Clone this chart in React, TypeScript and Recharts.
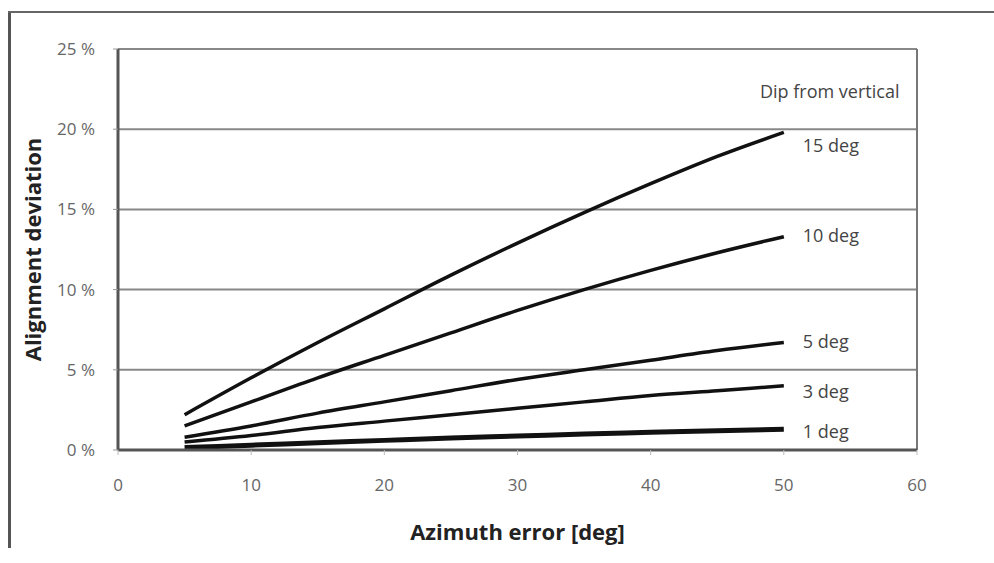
import React from "react";
import {
  CartesianGrid, Label, Line, LineChart, ReferenceLine, XAxis, YAxis,
} from "recharts";

const azimuth = [5, 10, 15, 20, 25, 30, 35, 40, 45, 50];

// Alignment deviation [%] per dip-from-vertical curve
const dip15 = [2.2, 4.5, 6.7, 8.8, 10.9, 12.9, 14.8, 16.6, 18.3, 19.8];
const dip10 = [1.5, 3.0, 4.5, 5.9, 7.3, 8.7, 10.0, 11.2, 12.3, 13.3];
const dip5 = [0.8, 1.5, 2.3, 3.0, 3.7, 4.4, 5.0, 5.6, 6.2, 6.7];
const dip3 = [0.5, 0.9, 1.4, 1.8, 2.2, 2.6, 3.0, 3.4, 3.7, 4.0];
const dip1 = [0.15, 0.3, 0.45, 0.6, 0.75, 0.87, 1.0, 1.1, 1.2, 1.3];

const seriesNames = ["15 deg", "10 deg", "5 deg", "3 deg", "1 deg"];
const xTicks = [0, 10, 20, 30, 40, 50, 60];
const yTicks = [0, 5, 10, 15, 20, 25];

const seriesValues = [dip15, dip10, dip5, dip3, dip1];
const data = azimuth.map((az, i) => {
  const row: Record<string, number> = { az };
  seriesNames.forEach((name, s) => { row[name] = seriesValues[s][i]; });
  return row;
});

// label nudges so the end labels sit where the original put them
const labelDy: Record<string, number> = {
  "15 deg": 13, "10 deg": -1, "5 deg": -1, "3 deg": 6, "1 deg": 3,
};
const strokeW: Record<string, number> = {
  "15 deg": 3.5, "10 deg": 3.5, "5 deg": 3.5, "3 deg": 3.5, "1 deg": 5,
};

const FONT = "'Open Sans', 'DejaVu Sans', sans-serif";
const tickStyle = { fill: "#666", fontSize: 17, fontFamily: FONT };

function endLabel(name: string) {
  return (props: any) => {
    const { x, y, index } = props;
    if (index !== azimuth.length - 1) return null;
    return (
      <text
        x={x + 19}
        y={y + labelDy[name]}
        dy="0.35em"
        fill="#444"
        fontSize={18}
        fontFamily={FONT}
      >
        {name}
      </text>
    );
  };
}

export default function App() {
  return (
    <div style={{ position: "fixed", left: 0, top: 0, width: 994, height: 563, background: "#fff" }}>
      {/* the cropped outer frame: only left and top edges are visible */}
      <div style={{ position: "absolute", left: 8, top: 11, width: 3, height: 537, background: "#555" }} />
      <div style={{ position: "absolute", left: 8, top: 11, width: 986, height: 2, background: "#666" }} />
      <div
        style={{
          position: "absolute", left: 760, top: 79, fontSize: 18, fontFamily: FONT,
          color: "#444", whiteSpace: "nowrap", lineHeight: "24px",
        }}
      >
        Dip from vertical
      </div>
      <LineChart
        width={994}
        height={563}
        data={data}
        margin={{ top: 49, right: 77, bottom: 0, left: 58 }}
      >
        <CartesianGrid vertical={false} stroke="#888" strokeWidth={2} />
        <XAxis
          type="number"
          dataKey="az"
          domain={[0, 60]}
          ticks={xTicks}
          tick={tickStyle}
          tickSize={5}
          tickMargin={24}
          tickLine={{ stroke: "#bbb" }}
          axisLine={{ stroke: "#555", strokeWidth: 3 }}
          height={113}
        >
          <Label
            value="Azimuth error [deg]"
            position="insideBottom"
            offset={23}
            style={{ fontSize: 22, fontWeight: 700, fontFamily: FONT, fill: "#222" }}
          />
        </XAxis>
        <YAxis
          type="number"
          domain={[0, 25]}
          ticks={yTicks}
          tickFormatter={(v) => `${v} %`}
          tick={tickStyle}
          tickSize={5}
          tickMargin={18}
          tickLine={{ stroke: "#999" }}
          axisLine={{ stroke: "#555", strokeWidth: 3 }}
          width={60}
        >
          <Label
            value="Alignment deviation"
            angle={-90}
            position="center"
            dx={-55}
            style={{ fontSize: 22, fontWeight: 700, fontFamily: FONT, fill: "#222", textAnchor: "middle" }}
          />
        </YAxis>
        <ReferenceLine x={60} stroke="#777" strokeWidth={2} />
        {seriesNames.map((name) => (
          <Line
            key={name}
            type="monotone"
            dataKey={name}
            stroke="#111"
            strokeWidth={strokeW[name]}
            dot={false}
            label={endLabel(name)}
            isAnimationActive={false}
          />
        ))}
      </LineChart>
    </div>
  );
}
